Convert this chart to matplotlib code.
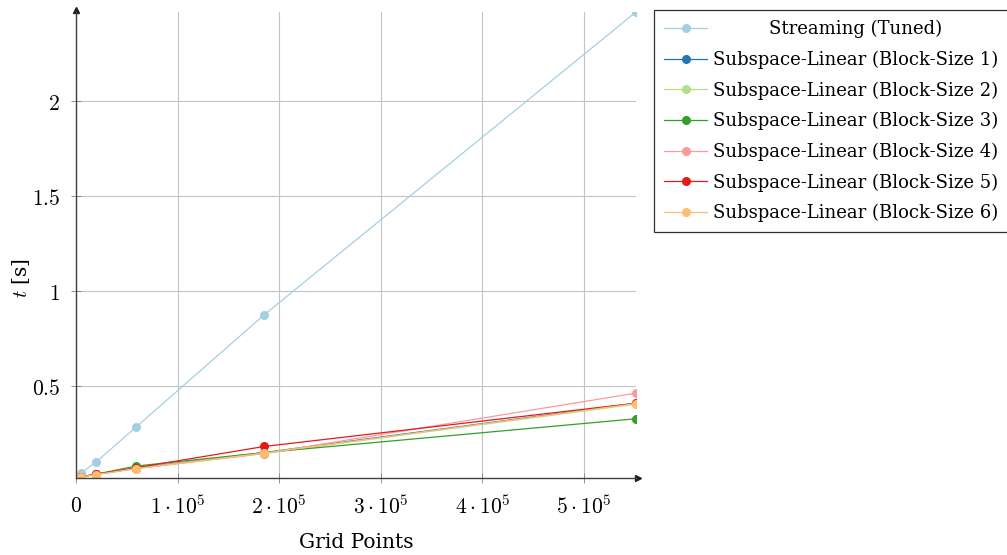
import numpy as np
import matplotlib
matplotlib.use("Agg")
import matplotlib.pyplot as plt

plt.rcParams['font.family'] = ['DejaVu Serif']
plt.rcParams['mathtext.fontset'] = 'cm'

# data
grid_points = [512, 4913, 19683, 59319, 185193, 551368]
streaming = [0.018, 0.042, 0.100, 0.285, 0.875, 2.47]
block_1 = [0.016, 0.022, 0.035, 0.068, 0.150, 0.410]
block_2 = [0.016, 0.022, 0.034, 0.066, 0.145, 0.405]
block_3 = [0.016, 0.023, 0.036, 0.079, 0.150, 0.328]
block_4 = [0.016, 0.022, 0.035, 0.066, 0.145, 0.463]
block_5 = [0.016, 0.023, 0.036, 0.070, 0.182, 0.410]
block_6 = [0.016, 0.022, 0.034, 0.066, 0.147, 0.408]

labels = ['Streaming (Tuned)'] + ['Subspace-Linear (Block-Size %d)' % i for i in range(1, 7)]
series = [streaming, block_1, block_2, block_3, block_4, block_5, block_6]
colors = ['#a6cee3', '#1f78b4', '#b2df8a', '#33a02c', '#fb9a99', '#e31a1c', '#fdbf6f']

x_ticks = [0, 1e5, 2e5, 3e5, 4e5, 5e5]
x_ticklabels = ['$0$'] + [r'$%d\cdot10^{5}$' % i for i in range(1, 6)]
y_ticks = [0.5, 1, 1.5, 2]
y_ticklabels = ['$0.5$', '$1$', '$1.5$', '$2$']

fig = plt.figure(figsize=(10.07, 5.55), dpi=100)
ax = fig.add_axes([76 / 1007, 1 - 478 / 555, (636 - 76) / 1007, (478 - 12) / 555])

for ys, c, lab in zip(series, colors, labels):
    ax.plot(grid_points, ys, color=c, lw=0.9, marker='o', ms=5.5, label=lab)

ymin = min(min(s) for s in series)
ymax = max(max(s) for s in series)
ax.set_xlim(0, max(grid_points))
ax.set_ylim(ymin, ymax)

ax.set_xticks(x_ticks)
ax.set_xticklabels(x_ticklabels)
ax.set_yticks(y_ticks)
ax.set_yticklabels(y_ticklabels)
ax.tick_params(direction='inout', length=7, width=0.6, color='#808080', labelsize=15.5)
ax.tick_params(axis='x', pad=9)
ax.tick_params(axis='y', pad=8)
ax.grid(True, color='#c4c4c4', lw=0.8)
ax.set_axisbelow(True)

for s in ['top', 'right']:
    ax.spines[s].set_visible(False)
for s in ['left', 'bottom']:
    ax.spines[s].set_color('#404040')
    ax.spines[s].set_linewidth(1.0)
ax.plot(1.004, 0, '>', color='#202020', ms=5, transform=ax.transAxes, clip_on=False)
ax.plot(0, 1.004, '^', color='#202020', ms=5, transform=ax.transAxes, clip_on=False)

ax.set_xlabel('Grid Points', fontsize=14.5)
ax.set_ylabel(r'$t$ [s]', fontsize=14.5)
ax.xaxis.set_label_coords(0.5, -(542 - 478) / 466, transform=ax.transAxes)
ax.xaxis.label.set_va('center')
ax.yaxis.set_label_coords((21 - 76) / 560, (478 - 278) / 466)
ax.yaxis.label.set_va('center')

leg = ax.legend(loc='upper left', bbox_to_anchor=(654 / 1007, 545 / 555),
                bbox_transform=fig.transFigure, borderaxespad=0, fancybox=False,
                edgecolor='#303030', framealpha=1, fontsize=13, handlelength=2.4,
                handletextpad=0.3, labelspacing=0.69, borderpad=0.55)
leg.get_frame().set_linewidth(0.9)

# centre the first legend entry like pgfplots does
fig.canvas.draw()
r = fig.canvas.get_renderer()
texts = leg.get_texts()
widths = [t.get_window_extent(r).width for t in texts]
texts[0].set_position(((max(widths) - widths[0]) / 2, 0))

fig.savefig('out.png', dpi=100)
